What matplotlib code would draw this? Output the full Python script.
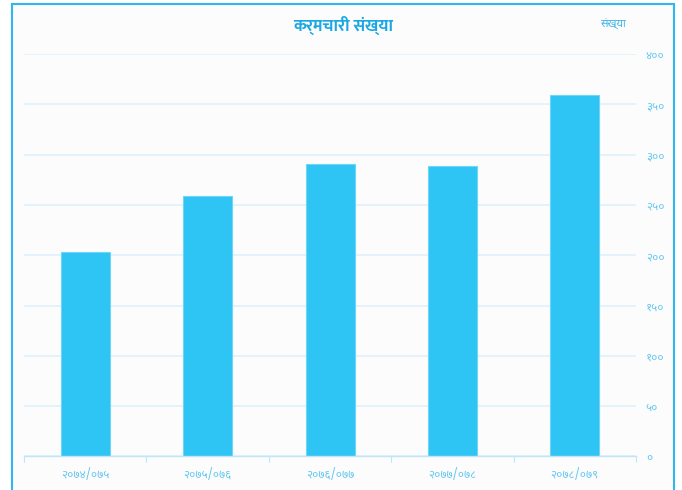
import matplotlib
matplotlib.use("Agg")
import matplotlib.pyplot as plt
from matplotlib.patches import Rectangle
from matplotlib.ticker import FixedLocator

years = ["२०७४/०७५", "२०७५/०७६", "२०७६/०७७", "२०७७/०७८", "२०७८/०७९"]
staff = [203, 259, 291, 289, 359]
y_ticks = [0, 50, 100, 150, 200, 250, 300, 350, 400]
y_labels = ["०", "५०", "१००", "१५०", "२००", "२५०", "३००", "३५०", "४००"]
title = "कर्मचारी संख्या"
unit = "संख्या"

plt.rcParams["font.family"] = ["Noto Sans Devanagari", "Mukta", "Ek Mukta", "FreeSans", "DejaVu Sans"]

fig = plt.figure(figsize=(6.82, 4.9), dpi=100, facecolor="white")
fig.patches.append(Rectangle((0.0176, -0.05), 0.9706, 1.0418, transform=fig.transFigure,
                             facecolor="#fcfcfd", edgecolor="#2fb8ec", linewidth=1.5, zorder=-1))

ax = fig.add_axes([0.0352, 0.0684, 0.8974, 0.8214])
ax.set_zorder(2)
ax.set_facecolor("none")
x = list(range(len(years)))
ax.bar(x, staff, width=0.4, color="#2ec4f3", edgecolor="#6fd6f7", linewidth=0.8, zorder=3)

ax.set_xlim(-0.5, len(years) - 0.5)
ax.set_ylim(0, 400)
ax.set_yticks(y_ticks)
ax.set_yticklabels(y_labels)
ax.yaxis.tick_right()
ax.tick_params(axis="y", length=0, pad=7, labelsize=8.5, labelcolor="#66c8f0")
ax.set_xticks(x)
ax.set_xticklabels(years)
ax.tick_params(axis="x", which="major", length=0, pad=8, labelsize=8.5, labelcolor="#66c8f0")
ax.xaxis.set_minor_locator(FixedLocator([i - 0.5 for i in range(len(years) + 1)]))
ax.tick_params(axis="x", which="minor", length=4, width=0.8, color="#bfe6f8")

ax.grid(axis="y", color="#dff1fb", linewidth=1.2, zorder=0)
for side in ["top", "right", "left"]:
    ax.spines[side].set_visible(False)
ax.spines["bottom"].set_color("#bfe6f8")
ax.spines["bottom"].set_linewidth(1.0)
ax.spines["bottom"].set_zorder(4)

fig.text(0.503, 0.949, title, ha="center", va="center", fontsize=12, fontweight="bold",
         color="#1aa8e4", family=["Ek Mukta", "Noto Sans Devanagari", "DejaVu Sans"], zorder=3)
fig.text(0.899, 0.949, unit, ha="center", va="center", fontsize=8, color="#3fb4e8", zorder=3)

fig.savefig("out.png", dpi=100, facecolor="white")
